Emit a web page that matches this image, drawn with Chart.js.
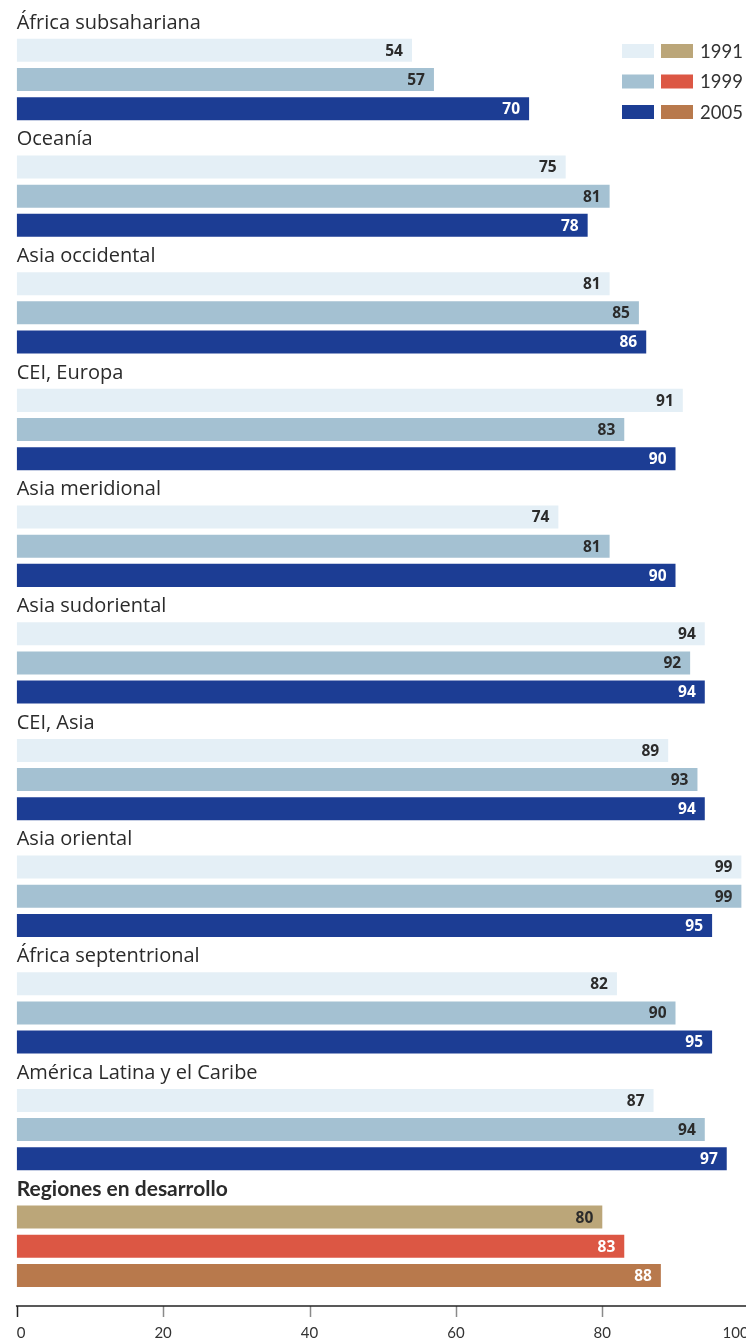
<!DOCTYPE html>
<html><head><meta charset="utf-8">
<script src="https://cdn.jsdelivr.net/npm/chart.js@4.4.1/dist/chart.umd.min.js"></script>
<style>
html,body{margin:0;padding:0;background:#fff;overflow:hidden;}
#wrap{width:746px;height:1340px;overflow:hidden;position:relative;}
#c{position:absolute;left:0;top:0;width:760px;height:1340px;}
</style></head><body>
<div id="wrap"><canvas id="c" width="760" height="1340"></canvas></div>
<script>
// ---- data ----
const regions = ['África subsahariana','Oceanía','Asia occidental','CEI, Europa','Asia meridional','Asia sudoriental','CEI, Asia','Asia oriental','África septentrional','América Latina y el Caribe','Regiones en desarrollo'];
const v1991 = [54,75,81,91,74,94,89,99,82,87,80];
const v1999 = [57,81,85,83,81,92,93,99,90,94,83];
const v2005 = [70,78,86,90,90,94,94,95,95,97,88];
const years = ['1991','1999','2005'];
const xTickValues = [0,20,40,60,80,100];

// ---- styles ----
const regionColors = ['#e4eff6','#a4c1d2','#1c3d94'];
const totalColors  = ['#bba679','#dc5744','#b8794c'];
const regionText   = ['#2b2b2b','#2b2b2b','#ffffff'];
const totalText    = ['#2b2b2b','#ffffff','#ffffff'];
const SANS = '"Open Sans", "Noto Sans", sans-serif';
const LATO = 'Lato, "Noto Sans", sans-serif';
const series = [v1991, v1999, v2005];
const lastIdx = regions.length - 1;

const datasets = [{label:'', data: regions.map(() => null), backgroundColor:'rgba(0,0,0,0)'}];
series.forEach((vals, s) => {
  datasets.push({
    label: years[s],
    data: vals,
    backgroundColor: regions.map((r, i) => i === lastIdx ? totalColors[s] : regionColors[s]),
    barPercentage: 0.789,
    categoryPercentage: 1.0
  });
});

const valueLabels = {
  id: 'valueLabels',
  afterDatasetsDraw(chart) {
    const ctx = chart.ctx;
    ctx.save();
    ctx.font = 'bold 15.5px ' + SANS;
    ctx.textAlign = 'right';
    ctx.textBaseline = 'middle';
    for (let d = 1; d <= 3; d++) {
      const meta = chart.getDatasetMeta(d);
      meta.data.forEach((bar, i) => {
        const s = d - 1;
        ctx.fillStyle = i === lastIdx ? totalText[s] : regionText[s];
        ctx.fillText(String(series[s][i]), bar.x - 9, bar.y + 1);
      });
    }
    ctx.restore();
  }
};

const axisLine = {
  id: 'axisLine',
  afterDraw(chart) {
    const ctx = chart.ctx;
    const xs = chart.scales.x;
    const ca = chart.chartArea;
    const yAxis = ca.bottom + 16;
    ctx.save();
    ctx.lineWidth = 1.5;
    xs.ticks.forEach((t, i) => {
      const px = Math.round(xs.getPixelForTick(i)) + 0.5;
      ctx.beginPath();
      ctx.moveTo(px, yAxis);
      ctx.lineTo(px, yAxis + 11);
      ctx.strokeStyle = i === 0 ? '#222' : '#8a8a8a';
      ctx.stroke();
    });
    ctx.strokeStyle = '#222';
    ctx.beginPath();
    ctx.moveTo(xs.getPixelForValue(0) - 0.75, yAxis);
    ctx.lineTo(ca.right + 20, yAxis);
    ctx.stroke();
    ctx.restore();
  }
};

const legendPlugin = {
  id: 'legendBoxes',
  afterDraw(chart) {
    const ctx = chart.ctx;
    ctx.save();
    const rows = [51, 81.5, 112];
    ctx.font = '18.5px ' + LATO;
    ctx.textBaseline = 'middle';
    ctx.textAlign = 'left';
    years.forEach((y, s) => {
      const cy = rows[s];
      ctx.fillStyle = regionColors[s];
      ctx.fillRect(622, cy - 7, 32, 14);
      ctx.fillStyle = totalColors[s];
      ctx.fillRect(661, cy - 7, 32, 14);
      ctx.fillStyle = '#333';
      ctx.fillText(y, 700, cy + 1);
    });
    ctx.restore();
  }
};

new Chart(document.getElementById('c'), {
  type: 'bar',
  data: { labels: regions, datasets },
  options: {
    indexAxis: 'y',
    responsive: false,
    animation: false,
    devicePixelRatio: 1,
    layout: { padding: { left: 16.7, right: 11.3, top: 6.6, bottom: 0 } },
    plugins: { legend: { display: false }, tooltip: { enabled: false } },
    scales: {
      x: {
        type: 'linear', min: 0, max: 100,
        afterBuildTicks(scale) { scale.ticks = xTickValues.map(v => ({ value: v })); },
        afterFit(scale) { scale.height = 50; scale.paddingLeft = 0; scale.paddingRight = 0; },
        grid: { display: false },
        border: { display: false },
        ticks: { font: { family: LATO, size: 15 }, color: '#333', align: 'inner', padding: 26, maxRotation: 0 }
      },
      y: {
        type: 'category',
        offset: true,
        afterFit(scale) { scale.width = 0; scale.paddingTop = 0; scale.paddingBottom = 0; },
        grid: { display: false },
        border: { display: false },
        ticks: {
          mirror: true,
          padding: 0,
          labelOffset: -42,
          autoSkip: false,
          color: '#2b2b2b',
          font: (c) => c.index === lastIdx
            ? { family: LATO, size: 21, weight: 'bold' }
            : { family: SANS, size: 20 }
        }
      }
    }
  },
  plugins: [valueLabels, axisLine, legendPlugin]
});
</script>
</body></html>
